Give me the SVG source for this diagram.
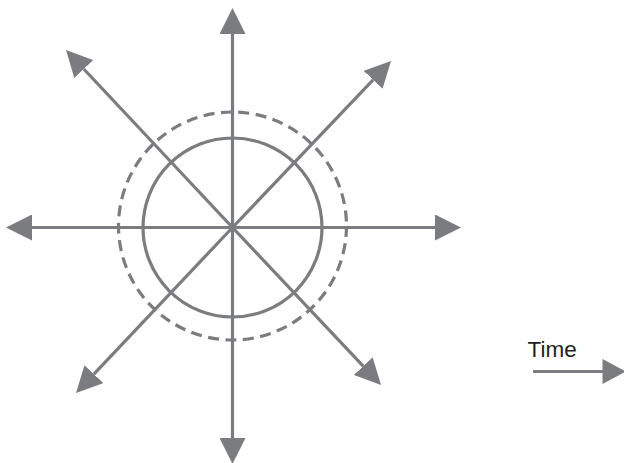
<svg xmlns="http://www.w3.org/2000/svg" width="624" height="463" viewBox="0 0 624 463">
  <style>
    .ln { stroke: #7b7c7f; stroke-width: 3.2; fill: none; }
    .ar { marker-end: url(#head); }
    .dash { stroke-dasharray: 11 6.5; }
    .hd { fill: #7b7c7f; }
    .lbl { font-family: "Liberation Sans", Arial, sans-serif; font-size: 22.5px; fill: #231f20; }
  </style>
  <defs>
    <marker id="head" viewBox="0 0 26 26" refX="0" refY="13" markerWidth="26" markerHeight="26" markerUnits="userSpaceOnUse" orient="auto">
      <path d="M0,0 L26,13 L0,26 Z" fill="#7b7c7f"/>
    </marker>
  </defs>
  <rect width="624" height="463" fill="#ffffff"/>
  <g id="circles">
    <circle id="solid-circle" class="ln" cx="232.5" cy="227.5" r="89.5"/>
    <circle id="dashed-circle" class="ln dash" cx="232.5" cy="226" r="114"/>
  </g>
  <g id="connectors">
    <line class="ln ar" x1="232.5" y1="227.5" x2="232.5" y2="34"/>
    <line class="ln ar" x1="232.5" y1="227.5" x2="232.5" y2="438"/>
    <line class="ln ar" x1="232.5" y1="227.5" x2="32" y2="227.5"/>
    <line class="ln ar" x1="232.5" y1="227.5" x2="435" y2="227.5"/>
    <line class="ln ar" x1="232.5" y1="227.5" x2="83.8" y2="69"/>
    <line class="ln ar" x1="232.5" y1="227.5" x2="363.2" y2="366.1"/>
    <line class="ln ar" x1="232.5" y1="227.5" x2="373.1" y2="79.8"/>
    <line class="ln ar" x1="232.5" y1="227.5" x2="93.9" y2="374.1"/>
    <g id="time-arrow">
      <line class="ln" x1="533" y1="371.5" x2="604" y2="371.5"/>
      <polygon class="hd" points="602.5,359 626,371.5 602.5,384"/>
    </g>
  </g>
  <g id="label-time">
    <text class="lbl" x="527.5" y="357">Time</text>
  </g>
</svg>
